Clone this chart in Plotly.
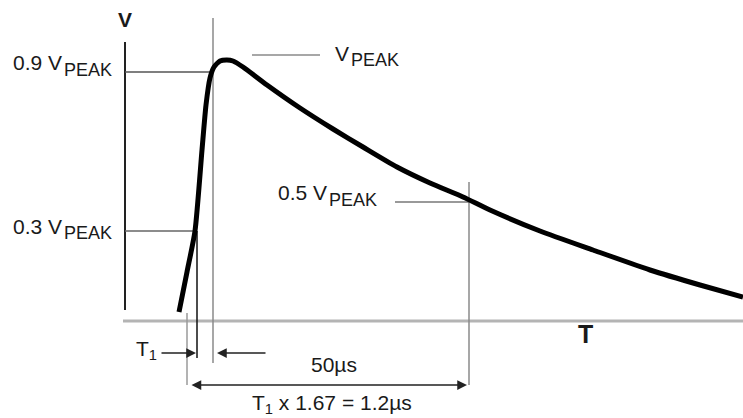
import plotly.graph_objects as go

# Diagram units: t to the right, v upward (0..743 by 0..418 drawing space)
curve_t = [179, 187, 195, 202, 206, 210, 214, 220, 227, 233, 243, 267, 300, 333,
           363, 397, 430, 463, 490, 540, 593, 650, 700, 743]
curve_py = [312, 272, 231, 150, 105, 78, 67, 61, 60, 61, 67, 85, 108, 129,
            147, 167, 183, 197, 210, 231, 250, 270, 285, 297]
H = 418
curve_v = [H - p for p in curve_py]

level_labels = ["0.9 V", "0.3 V", "0.5 V", "V"]
sub_label = "PEAK"
time_labels = ["50µs", "T", "T<sub>1</sub>", "T<sub>1</sub> x 1.67 = 1.2µs"]

FONT = "Liberation Sans, Arial, sans-serif"
TXT = "#1a1a1a"

fig = go.Figure()


def seg(x0, y0, x1, y1, color, width):
    fig.add_shape(type="line", x0=x0, y0=H - y0, x1=x1, y1=H - y1,
                  line=dict(color=color, width=width), layer="below")


# reference lines
seg(123, 321, 743, 321, "#b4b4b4", 3)        # time axis
seg(125, 42, 125, 310, "#222222", 2)         # V axis
seg(125, 72, 212, 72, "#555555", 1.5)        # 0.9 level
seg(125, 231, 196, 231, "#666666", 1.5)      # 0.3 level
seg(213, 18, 213, 363, "#8a8a8a", 1.5)       # 0.9 crossing
seg(197, 231, 197, 358, "#111111", 1.5)      # 0.3 crossing
seg(187, 313, 187, 385, "#9a9a9a", 1.5)      # virtual origin
seg(469, 182, 469, 385, "#8a8a8a", 1.5)      # half-value
seg(395, 202, 469, 202, "#777777", 1.5)      # 0.5 level
seg(252, 55, 320, 55, "#8a8a8a", 1.5)        # peak leader

fig.add_trace(go.Scatter(x=curve_t, y=curve_v, mode="lines",
                         line=dict(color="black", width=5, shape="spline", smoothing=0.6),
                         hoverinfo="skip", showlegend=False))


def txt(x, y, s, size, anchor="left", bold=False):
    fig.add_annotation(x=x, y=H - y, text=f"<b>{s}</b>" if bold else s,
                       showarrow=False, xanchor=anchor, yanchor="middle",
                       font=dict(family=FONT, size=size, color=TXT))


MAIN, SUB = 21, 18
# level labels
txt(64, 62, level_labels[0], MAIN, "right")
txt(62, 70, sub_label, SUB, "left")
txt(64, 226, level_labels[1], MAIN, "right")
txt(62, 233, sub_label, SUB, "left")
txt(329, 192, level_labels[2], MAIN, "right")
txt(327, 200, sub_label, SUB, "left")
txt(351, 53, "V", MAIN, "right")
txt(349, 60, sub_label, SUB, "left")
txt(125, 19, level_labels[3], 21, "center", bold=True)

# time labels
txt(334, 364, time_labels[0], MAIN, "center")
txt(585, 334, time_labels[1], 25, "center", bold=True)
txt(134, 350, time_labels[2], MAIN, "left")
txt(332, 404, time_labels[3], MAIN, "center")


def arrow(x_tail, x_head, y, both=False):
    fig.add_annotation(x=x_head, y=H - y, ax=x_tail, ay=H - y,
                       xref="x", yref="y", axref="x", ayref="y",
                       text="", showarrow=True, arrowhead=2, arrowsize=1.3,
                       arrowwidth=1.5, arrowcolor="#222222",
                       arrowside="end+start" if both else "end")


arrow(160, 196, 353)
arrow(267, 217, 353)
arrow(190, 467, 385, both=True)

fig.update_layout(
    width=743, height=418, margin=dict(l=0, r=0, t=0, b=0),
    paper_bgcolor="white", plot_bgcolor="white",
    xaxis=dict(range=[0, 743], visible=False, fixedrange=True),
    yaxis=dict(range=[0, 418], visible=False, fixedrange=True),
    showlegend=False,
)

fig.write_html("out.html", config={"displayModeBar": False},
               post_script="document.body.style.margin='0';document.body.style.overflow='hidden';")
